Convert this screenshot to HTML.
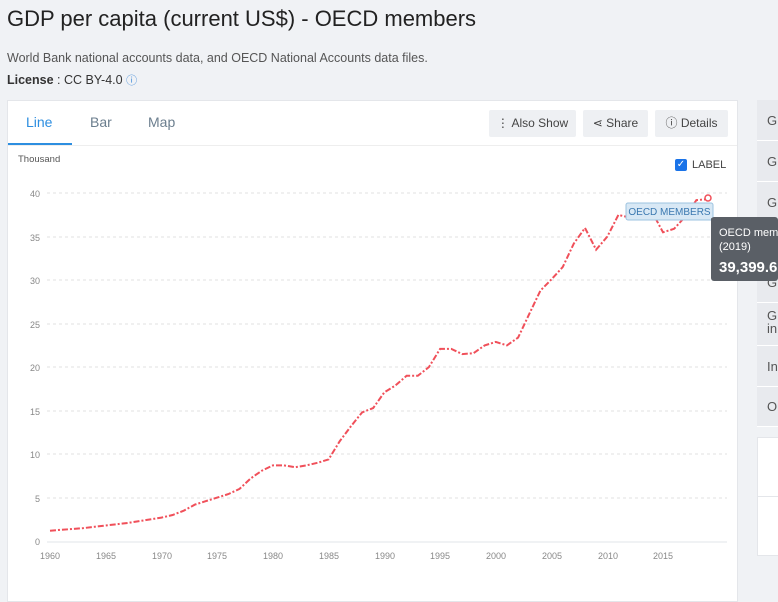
<!DOCTYPE html>
<html><head><meta charset="utf-8"><style>
body{margin:0;width:778px;height:600px;background:#f0f2f5;font-family:"Liberation Sans",sans-serif;position:relative;overflow:hidden;color:#333}
.t{position:absolute;left:7px;top:6px;font-size:22px;color:#222}
.s{position:absolute;left:7px;top:51px;font-size:12.5px;color:#555}
.l{position:absolute;left:7px;top:72px;font-size:12.5px;color:#333}
.card{position:absolute;left:7px;top:100px;width:729px;height:500px;background:#fff;border:1px solid #e4e6ea}
.tab{position:absolute;top:13px;font-size:14px;color:#6b7e8e}
.btn{position:absolute;top:9px;height:27px;background:#eef0f3;border-radius:2px;font-size:12px;color:#444;line-height:27px;text-align:center}
.side{position:absolute;left:757px;width:21px;background:#e8eaee;border-bottom:1px solid #fff;font-size:13px;color:#555;padding-left:10px;box-sizing:border-box}
.wb{position:absolute;left:757px;width:21px;background:#fff;border:1px solid #e4e6ea}
</style></head><body>
<div class="t">GDP per capita (current US$) - OECD members</div>
<div class="s">World Bank national accounts data, and OECD National Accounts data files.</div>
<div class="l"><b>License</b> : CC BY-4.0 <span style="color:#4a90d9;font-size:11px">ⓘ</span></div>
<div class="card">
<div class="tab" style="left:18px;color:#2d8ee0">Line</div>
<div class="tab" style="left:82px">Bar</div>
<div class="tab" style="left:140px">Map</div>
<div style="position:absolute;left:0;top:42px;width:64px;height:2px;background:#2d8ee0"></div>
<div style="position:absolute;left:0;top:44px;width:729px;height:1px;background:#eee"></div>
<div class="btn" style="left:481px;width:87px">⋮ Also Show</div>
<div class="btn" style="left:575px;width:65px">⋖ Share</div>
<div class="btn" style="left:647px;width:73px">ⓘ Details</div>
<div style="position:absolute;left:10px;top:53px;font-size:9.5px;color:#555">Thousand</div>
<div style="position:absolute;left:667px;top:58px;width:12px;height:12px;background:#1a73e8;border-radius:2px;color:#fff;font-size:10px;line-height:12px;text-align:center">✓</div>
<div style="position:absolute;left:684px;top:58px;font-size:11px;color:#444">LABEL</div>
</div>
<div class="side" style="top:100px;height:41px;line-height:41px">Gl</div>
<div class="side" style="top:141px;height:41px;line-height:41px">Gl</div>
<div class="side" style="top:182px;height:41px;line-height:41px">Gl</div>
<div class="side" style="top:223px;height:40px;line-height:40px">Gl</div>
<div class="side" style="top:263px;height:40px;line-height:40px">Gl</div>
<div class="side" style="top:303px;height:43px;line-height:13px;padding-top:6px">Gl<br>in</div>
<div class="side" style="top:346px;height:41px;line-height:41px">In</div>
<div class="side" style="top:387px;height:40px;line-height:40px">Oi</div>
<div class="wb" style="top:437px;height:58px"></div>
<div class="wb" style="top:496px;height:58px"></div>
<svg style="position:absolute;left:0;top:0;z-index:5" width="778" height="600" font-family="Liberation Sans" font-size="9" fill="#888">
<g stroke="#e2e2e2" stroke-dasharray="3,3">
<line x1="47" x2="727" y1="193" y2="193"/><line x1="47" x2="727" y1="237" y2="237"/><line x1="47" x2="727" y1="280" y2="280"/><line x1="47" x2="727" y1="324" y2="324"/><line x1="47" x2="727" y1="367" y2="367"/><line x1="47" x2="727" y1="411" y2="411"/><line x1="47" x2="727" y1="454" y2="454"/><line x1="47" x2="727" y1="498" y2="498"/>
</g>
<line x1="47" x2="727" y1="542" y2="542" stroke="#e0e6ea"/>
<g text-anchor="end"><text x="40" y="197">40</text><text x="40" y="241">35</text><text x="40" y="284">30</text><text x="40" y="328">25</text><text x="40" y="371">20</text><text x="40" y="415">15</text><text x="40" y="458">10</text><text x="40" y="502">5</text><text x="40" y="545">0</text></g>
<g text-anchor="middle"><text x="50" y="559">1960</text><text x="106" y="559">1965</text><text x="162" y="559">1970</text><text x="217" y="559">1975</text><text x="273" y="559">1980</text><text x="329" y="559">1985</text><text x="385" y="559">1990</text><text x="440" y="559">1995</text><text x="496" y="559">2000</text><text x="552" y="559">2005</text><text x="608" y="559">2010</text><text x="663" y="559">2015</text></g>
<polyline id="pl" fill="none" stroke="#f0505a" stroke-width="2" stroke-dasharray="6,2,2,2"/>
<circle cx="708" cy="198" r="3" fill="#fff" stroke="#f0505a" stroke-width="1.5"/>
<rect x="626" y="203" width="87" height="17" fill="#d8e8f5" stroke="#9cc3e0" rx="2"/>
<text x="669.5" y="215" text-anchor="middle" fill="#3a78b0" font-size="10">OECD MEMBERS</text>
<path d="M711 218 L718 225 L711 225Z" fill="#5a5f66"/>
<rect x="711" y="217" width="67" height="64" fill="#5a5f66" rx="3"/>
<text x="719" y="236" fill="#fff" font-size="11">OECD members</text>
<text x="719" y="250" fill="#fff" font-size="11">(2019)</text>
<text x="719" y="272" fill="#fff" font-size="15" font-weight="bold">39,399.6</text>
</svg>
<script>
var d=[1.3,1.4,1.5,1.6,1.75,1.9,2.05,2.2,2.4,2.6,2.8,3.1,3.6,4.3,4.7,5.1,5.5,6.1,7.3,8.2,8.8,8.8,8.6,8.8,9.1,9.5,11.6,13.3,14.9,15.4,17.2,18.0,19.1,19.1,20.1,22.2,22.2,21.6,21.7,22.6,23.0,22.6,23.5,26.2,28.9,30.2,31.6,34.3,36.1,33.6,35.1,37.6,37.3,37.6,38.0,35.6,36.0,37.4,39.3,39.4];
var p=d.map(function(v,i){return (50+i*11.145).toFixed(1)+","+(542-v*8.7).toFixed(1)}).join(" ");
document.getElementById("pl").setAttribute("points",p);
</script>
</body></html>
